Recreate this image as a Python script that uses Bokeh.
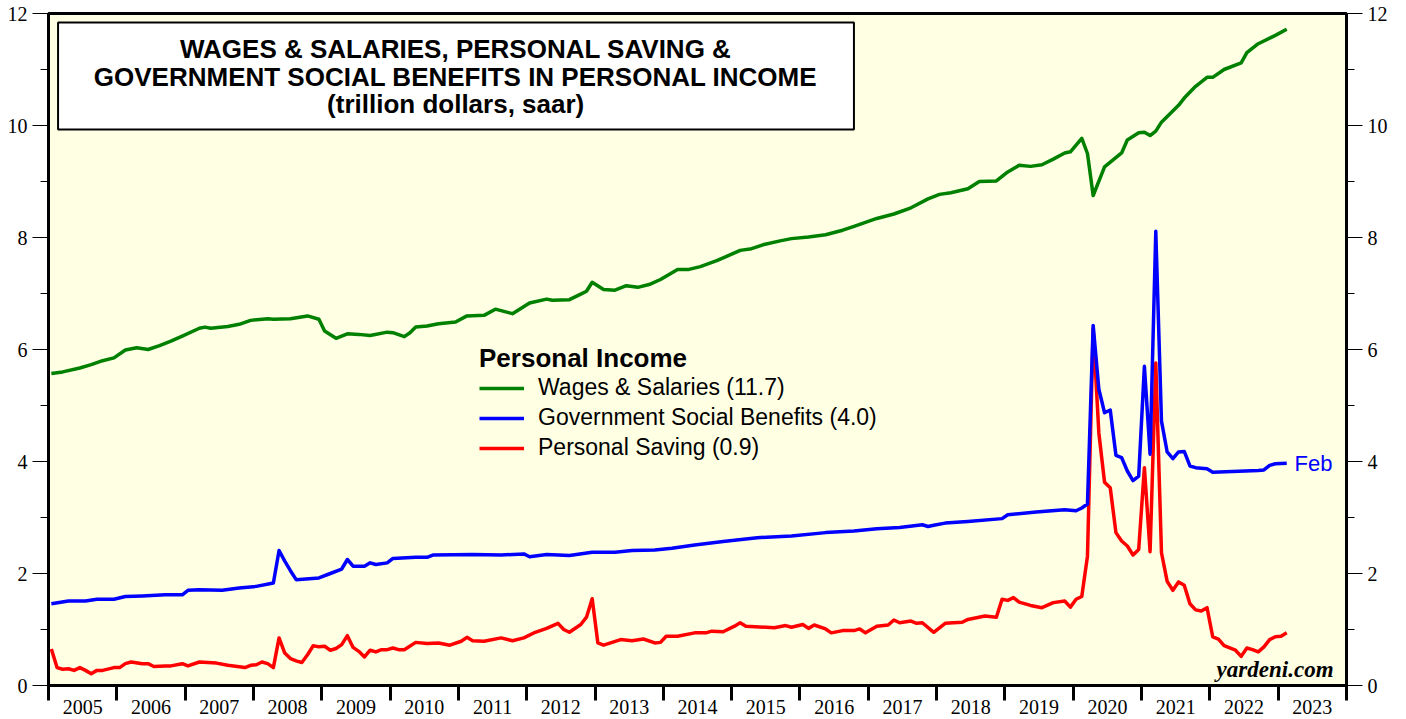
from bokeh.plotting import figure
from bokeh.models import (Range1d, LinearAxis, FixedTicker, CustomJSTickFormatter,
                          Legend, LegendItem, Label, BoxAnnotation)
from bokeh.embed import file_html
from bokeh.resources import INLINE

# ---------------- data (trillion dollars, saar) ----------------
years = list(range(2005, 2024))
y_ticks = [0, 2, 4, 6, 8, 10, 12]
y_minor = [1, 3, 5, 7, 9, 11]

wages_months = [
    "2005-01", "2005-03", "2005-06", "2005-08", "2005-10", "2005-12",
    "2006-02", "2006-04", "2006-06", "2006-08", "2006-10", "2006-12",
    "2007-03", "2007-04", "2007-05", "2007-08", "2007-10", "2007-12",
    "2008-03", "2008-04", "2008-07", "2008-10", "2008-12",
    "2009-01", "2009-03", "2009-05", "2009-07", "2009-09", "2009-12",
    "2010-01", "2010-03", "2010-04", "2010-05", "2010-07", "2010-09", "2010-12",
    "2011-02", "2011-05", "2011-07", "2011-10",
    "2012-01", "2012-04", "2012-05", "2012-08", "2012-10", "2012-11", "2012-12",
    "2013-02", "2013-04", "2013-06", "2013-08", "2013-10", "2013-12",
    "2014-03", "2014-05", "2014-07", "2014-10", "2014-12",
    "2015-02", "2015-04", "2015-06", "2015-09", "2015-11",
    "2016-02", "2016-05", "2016-08", "2016-10",
    "2017-02", "2017-05", "2017-08", "2017-11",
    "2018-01", "2018-03", "2018-06", "2018-08", "2018-11",
    "2019-01", "2019-03", "2019-05", "2019-07", "2019-09", "2019-11", "2019-12",
    "2020-02", "2020-03", "2020-04", "2020-06", "2020-09", "2020-10", "2020-12",
    "2021-01", "2021-02", "2021-03", "2021-04", "2021-07", "2021-08", "2021-10", "2021-12",
    "2022-01", "2022-03", "2022-06", "2022-07", "2022-09", "2022-12",
    "2023-02",
]
wages_values = [
    5.57, 5.60, 5.67, 5.73, 5.80, 5.85,
    5.99, 6.03, 6.00, 6.07, 6.15, 6.24,
    6.38, 6.40, 6.38, 6.41, 6.45, 6.52,
    6.55, 6.54, 6.55, 6.60, 6.54,
    6.33, 6.20, 6.28, 6.27, 6.25, 6.31,
    6.30, 6.23, 6.30, 6.40, 6.42, 6.46, 6.49,
    6.60, 6.61, 6.72, 6.64,
    6.83, 6.90, 6.88, 6.89, 6.99, 7.04, 7.20,
    7.07, 7.06, 7.14, 7.11, 7.16, 7.25,
    7.43, 7.43, 7.48, 7.59, 7.68,
    7.77, 7.80, 7.87, 7.94, 7.98,
    8.01, 8.05, 8.13, 8.20,
    8.34, 8.42, 8.53, 8.69,
    8.77, 8.80, 8.87, 9.00, 9.01,
    9.17, 9.29, 9.27, 9.30, 9.40, 9.51, 9.53,
    9.77, 9.50, 8.75, 9.26, 9.51, 9.74, 9.87,
    9.88, 9.82, 9.90, 10.06, 10.36, 10.49, 10.70, 10.86,
    10.86, 11.00, 11.12, 11.30, 11.46, 11.61,
    11.72,
]

benefits_months = [
    "2005-01", "2005-04", "2005-07", "2005-09", "2005-12",
    "2006-02", "2006-05", "2006-09", "2006-12",
    "2007-01", "2007-03", "2007-07", "2007-10",
    "2008-01", "2008-04", "2008-05", "2008-06", "2008-07", "2008-08", "2008-12",
    "2009-02", "2009-04", "2009-05", "2009-06", "2009-08", "2009-09", "2009-10", "2009-12",
    "2010-01", "2010-05", "2010-07", "2010-08",
    "2011-03", "2011-08", "2011-12",
    "2012-01", "2012-04", "2012-08", "2012-12",
    "2013-04", "2013-07", "2013-11",
    "2014-02", "2014-06", "2014-11",
    "2015-05", "2015-11",
    "2016-05", "2016-10",
    "2017-02", "2017-06", "2017-10", "2017-11", "2017-12",
    "2018-02", "2018-06", "2018-12",
    "2019-01", "2019-06", "2019-11",
    "2020-01", "2020-02", "2020-03", "2020-04", "2020-05", "2020-06", "2020-07",
    "2020-08", "2020-09", "2020-10", "2020-11", "2020-12",
    "2021-01", "2021-02", "2021-03", "2021-04", "2021-05", "2021-06", "2021-07",
    "2021-08", "2021-09", "2021-10", "2021-12",
    "2022-01", "2022-09", "2022-10", "2022-11", "2022-12",
    "2023-02",
]
benefits_values = [
    1.46, 1.51, 1.51, 1.54, 1.54,
    1.59, 1.60, 1.62, 1.62,
    1.70, 1.71, 1.70, 1.74,
    1.77, 1.83, 2.41, 2.22, 2.05, 1.89, 1.92,
    2.00, 2.08, 2.25, 2.13, 2.13, 2.19, 2.16, 2.19,
    2.27, 2.29, 2.29, 2.33,
    2.34, 2.33, 2.35,
    2.30, 2.34, 2.32, 2.38,
    2.38, 2.41, 2.42,
    2.45, 2.51, 2.57,
    2.64, 2.67,
    2.73, 2.76,
    2.80, 2.82, 2.87, 2.84, 2.86,
    2.90, 2.93, 2.98,
    3.05, 3.10, 3.14,
    3.12, 3.17, 3.24, 6.43, 5.29, 4.87, 4.92,
    4.11, 4.07, 3.83, 3.66, 3.74,
    5.70, 4.13, 8.11, 4.72, 4.17, 4.05, 4.17,
    4.18, 3.92, 3.89, 3.87,
    3.81, 3.84, 3.85, 3.93, 3.96,
    3.97,
]

saving_months = [
    "2005-01", "2005-02", "2005-03", "2005-04", "2005-05", "2005-06", "2005-07",
    "2005-08", "2005-09", "2005-10", "2005-12",
    "2006-01", "2006-02", "2006-03", "2006-05", "2006-06", "2006-07", "2006-09",
    "2006-10", "2006-12",
    "2007-01", "2007-03", "2007-06", "2007-08", "2007-09", "2007-11", "2007-12",
    "2008-01", "2008-02", "2008-03", "2008-04", "2008-05", "2008-06", "2008-07",
    "2008-08", "2008-09", "2008-10", "2008-11", "2008-12",
    "2009-01", "2009-02", "2009-03", "2009-04", "2009-05", "2009-06", "2009-07",
    "2009-08", "2009-09", "2009-10", "2009-11", "2009-12",
    "2010-01", "2010-02", "2010-03", "2010-05", "2010-07", "2010-09", "2010-11",
    "2011-01", "2011-02", "2011-03", "2011-05", "2011-08", "2011-10", "2011-12",
    "2012-02", "2012-04", "2012-06", "2012-07", "2012-08", "2012-10", "2012-11", "2012-12",
    "2013-01", "2013-02", "2013-05", "2013-07", "2013-09", "2013-11", "2013-12",
    "2014-01", "2014-03", "2014-06", "2014-08", "2014-09", "2014-11",
    "2015-01", "2015-02", "2015-03", "2015-08", "2015-10", "2015-11",
    "2016-01", "2016-02", "2016-03", "2016-05", "2016-06", "2016-08", "2016-10",
    "2016-11", "2016-12",
    "2017-02", "2017-04", "2017-05", "2017-06", "2017-08", "2017-09", "2017-10", "2017-12",
    "2018-02", "2018-05", "2018-06", "2018-09", "2018-11", "2018-12",
    "2019-01", "2019-02", "2019-03", "2019-05", "2019-07", "2019-09", "2019-11", "2019-12",
    "2020-01", "2020-02", "2020-03", "2020-04", "2020-05", "2020-06", "2020-07",
    "2020-08", "2020-09", "2020-10", "2020-11", "2020-12",
    "2021-01", "2021-02", "2021-03", "2021-04", "2021-05", "2021-06", "2021-07",
    "2021-08", "2021-09", "2021-10", "2021-11", "2021-12",
    "2022-01", "2022-02", "2022-03", "2022-04", "2022-05", "2022-06", "2022-07",
    "2022-08", "2022-09", "2022-10", "2022-11", "2022-12",
    "2023-01", "2023-02",
]
saving_values = [
    0.65, 0.32, 0.29, 0.30, 0.27, 0.32, 0.27,
    0.21, 0.27, 0.27, 0.32,
    0.32, 0.39, 0.42, 0.39, 0.39, 0.34, 0.35,
    0.35, 0.39,
    0.35, 0.42, 0.40, 0.36, 0.35, 0.32, 0.36,
    0.37, 0.42, 0.39, 0.32, 0.85, 0.58, 0.48,
    0.44, 0.41, 0.55, 0.71, 0.69,
    0.70, 0.63, 0.66, 0.73, 0.89, 0.68, 0.61,
    0.51, 0.63, 0.60, 0.64, 0.64,
    0.67, 0.64, 0.64, 0.77, 0.75, 0.76, 0.72,
    0.79, 0.86, 0.80, 0.79, 0.85, 0.80, 0.85,
    0.95, 1.02, 1.11, 1.00, 0.95, 1.09, 1.22, 1.55,
    0.76, 0.72, 0.82, 0.80, 0.83, 0.76, 0.77,
    0.88, 0.88, 0.94, 0.94, 0.97, 0.96,
    1.06, 1.12, 1.06, 1.03, 1.07, 1.04,
    1.09, 1.02, 1.08, 1.01, 0.94, 0.98, 0.98,
    1.01, 0.94,
    1.06, 1.08, 1.17, 1.12, 1.15, 1.11, 1.12, 0.95,
    1.11, 1.13, 1.18, 1.24, 1.22, 1.54,
    1.52, 1.57, 1.49, 1.43, 1.39, 1.48, 1.51, 1.40,
    1.54, 1.59, 2.31, 6.38, 4.51, 3.63, 3.53,
    2.73, 2.58, 2.49, 2.33, 2.43,
    3.89, 2.39, 5.76, 2.37, 1.86, 1.70, 1.85,
    1.79, 1.46, 1.35, 1.33, 1.39,
    0.87, 0.83, 0.71, 0.67, 0.63, 0.52, 0.67,
    0.64, 0.60, 0.69, 0.82, 0.87,
    0.88, 0.94,
]

legend_labels = ["Wages & Salaries (11.7)", "Government Social Benefits (4.0)",
                 "Personal Saving (0.9)"]
title_lines = ["WAGES & SALARIES, PERSONAL SAVING &",
               "GOVERNMENT SOCIAL BENEFITS IN PERSONAL INCOME",
               "(trillion dollars, saar)"]


def to_t(months):
    # mid-month position in decimal years
    return [int(m[:4]) + (int(m[5:7]) - 0.5) / 12.0 for m in months]


SANS = "Liberation Sans"
SERIF = "Liberation Serif"

p = figure(width=1400, height=716, output_backend="svg", toolbar_location=None,
           x_range=Range1d(2005, 2024), y_range=Range1d(0, 12),
           x_axis_type=None, y_axis_type=None,
           min_border_left=48, min_border_right=54, min_border_top=13, min_border_bottom=30,
           background_fill_color="#FFFFE4", border_fill_color="white")
p.outline_line_color = "black"
p.outline_line_width = 3

# x axis: labels centred in each year, tick marks at year boundaries
xaxis = LinearAxis(ticker=FixedTicker(ticks=[y + 0.5 for y in years],
                                      minor_ticks=years + [years[-1] + 1]),
                   formatter=CustomJSTickFormatter(code="return Math.floor(tick).toString();"))
xaxis.axis_line_width = 3
xaxis.axis_line_color = "black"
xaxis.major_tick_out = 0
xaxis.major_tick_in = 0
xaxis.minor_tick_out = 15
xaxis.minor_tick_in = 0
xaxis.minor_tick_line_width = 3
xaxis.minor_tick_line_color = "black"
xaxis.major_label_standoff = -1
xaxis.major_label_text_font = SERIF
xaxis.major_label_text_font_size = "20px"
xaxis.major_label_text_color = "black"
p.add_layout(xaxis, "below")

for side in ("left", "right"):
    ax = LinearAxis(ticker=FixedTicker(ticks=y_ticks, minor_ticks=y_minor))
    ax.axis_line_width = 3
    ax.axis_line_color = "black"
    ax.major_tick_out = 16
    ax.major_tick_in = 0
    ax.minor_tick_out = 8
    ax.minor_tick_in = 0
    ax.major_tick_line_width = 1
    ax.minor_tick_line_width = 1
    ax.major_tick_line_color = "black"
    ax.minor_tick_line_color = "black"
    ax.major_label_standoff = 5
    ax.major_label_text_font = SERIF
    ax.major_label_text_font_size = "20px"
    ax.major_label_text_color = "black"
    p.add_layout(ax, side)

# series
r_sav = p.line(to_t(saving_months), saving_values, line_color="#FF0000", line_width=3.5,
               line_join="round")
r_ben = p.line(to_t(benefits_months), benefits_values, line_color="#0000FF", line_width=3.5,
               line_join="round")
r_wag = p.line(to_t(wages_months), wages_values, line_color="#008000", line_width=3.5,
               line_join="round")

legend = Legend(items=[LegendItem(label=legend_labels[0], renderers=[r_wag]),
                       LegendItem(label=legend_labels[1], renderers=[r_ben]),
                       LegendItem(label=legend_labels[2], renderers=[r_sav])],
                location=(431, 224), title="Personal Income",
                title_text_font=SANS, title_text_font_style="bold",
                title_text_font_size="26px", title_standoff=0, title_text_color="black",
                label_text_font=SANS, label_text_font_size="23px", label_text_color="black",
                glyph_width=45, glyph_height=20, label_standoff=14, spacing=3,
                padding=0, margin=0, background_fill_alpha=0, border_line_alpha=0)
p.add_layout(legend)

# title box
p.add_layout(BoxAnnotation(left=2005.14, right=2016.79, top=11.84, bottom=9.93,
                           fill_color="white", fill_alpha=1.0,
                           line_color="black", line_alpha=1.0, line_width=2))
for txt, yv in zip(title_lines, [11.36, 10.875, 10.39]):
    p.add_layout(Label(x=2010.96, y=yv, text=txt, text_align="center",
                       text_baseline="middle", text_font=SANS, text_font_style="bold",
                       text_font_size="26px", text_color="black"))

p.add_layout(Label(x=2023.24, y=3.96, text="Feb", text_align="left",
                   text_baseline="middle", text_font=SANS, text_font_size="22px",
                   text_color="#0000FF"))
p.add_layout(Label(x=2023.81, y=0.29, text="yardeni.com", text_align="right",
                   text_baseline="middle", text_font=SERIF, text_font_style="bold italic",
                   text_font_size="23px", text_color="black"))

open("out.html", "w").write(file_html(p, INLINE))
